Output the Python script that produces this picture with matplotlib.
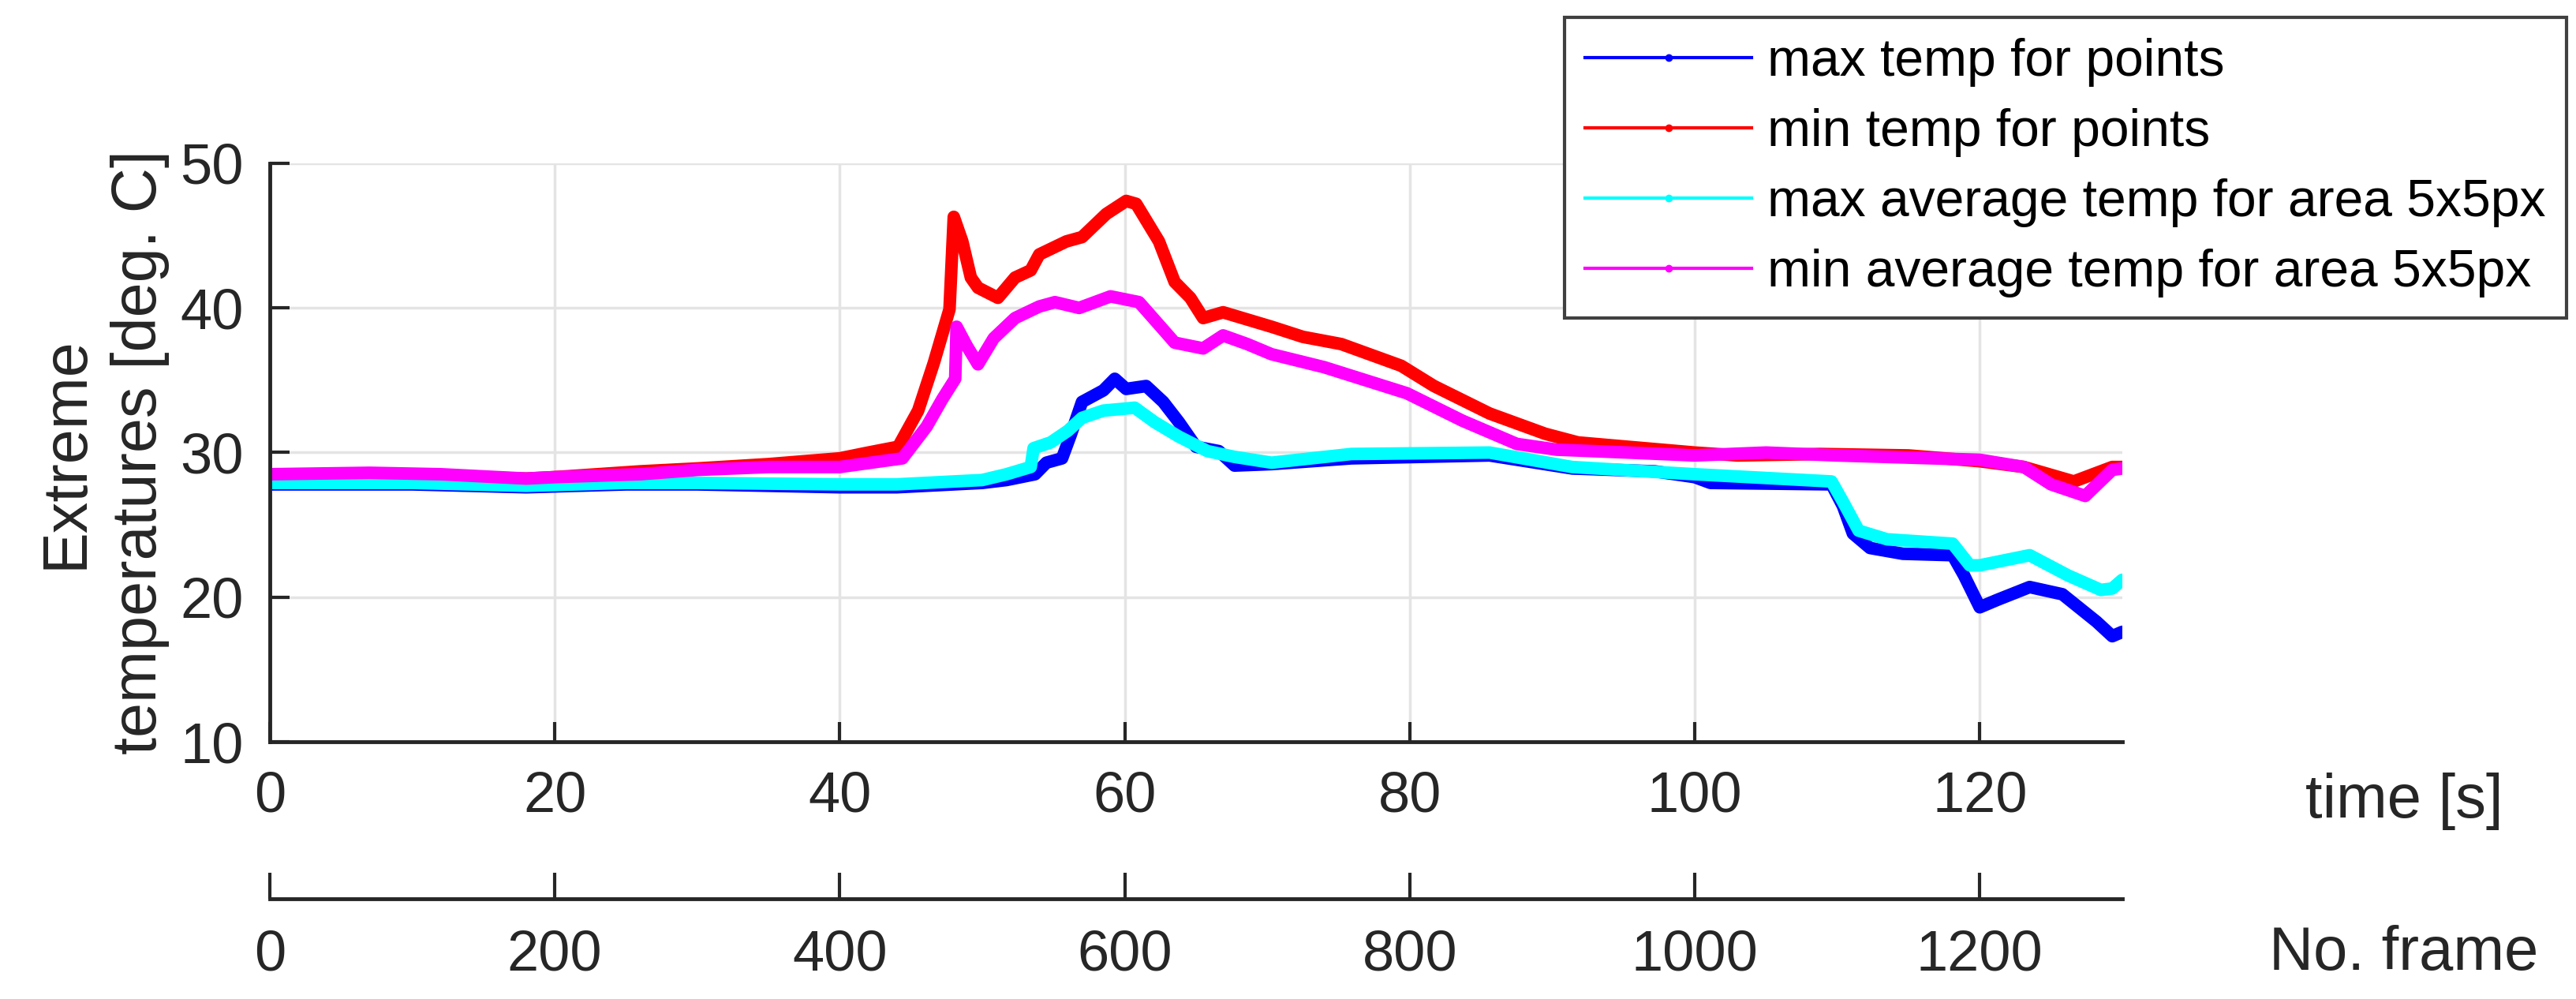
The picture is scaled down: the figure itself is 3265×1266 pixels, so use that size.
import matplotlib
matplotlib.use("Agg")
import matplotlib.pyplot as plt
from matplotlib.lines import Line2D

plt.rcParams['font.family'] = ['Liberation Sans', 'DejaVu Sans']

# values (time in s, temperature in deg. C)
t_red = [0, 5, 10, 18, 20, 26, 30, 35, 40, 42, 44.1, 45.5, 46.6, 47.7, 48.0, 48.6, 49.2, 49.7,
         51.1, 52.3, 53.4, 54.0, 55.9, 57.0, 58.7, 60.1, 60.8, 62.4, 63.5, 64.6, 65.5, 66.9,
         68.6, 70.3, 72.5, 75.2, 79.4, 81.7, 85.6, 89.5, 91.8, 95.3, 100, 103, 108.8, 115,
         120, 123.1, 126.6, 129.3, 130]
min_pts = [28.4, 28.5, 28.4, 28.2, 28.3, 28.7, 28.9, 29.2, 29.6, 30.0, 30.4, 32.9, 36.2, 39.9,
           46.3, 44.6, 42.1, 41.4, 40.7, 42.1, 42.6, 43.7, 44.6, 44.9, 46.5, 47.4, 47.2, 44.6,
           41.8, 40.7, 39.3, 39.7, 39.2, 38.7, 38.0, 37.5, 36.0, 34.6, 32.7, 31.3, 30.7, 30.4,
           30.0, 29.8, 29.9, 29.8, 29.4, 29.0, 28.0, 29.0, 29.0]

t_mag = [0, 7, 12, 18, 20, 26, 30, 35, 40, 44.4, 46.1, 47.2, 48.1, 48.2, 48.9, 49.7, 50.8,
         52.3, 54.0, 55.1, 56.8, 59.0, 61.0, 62.7, 63.5, 65.5, 66.9, 68.6, 70.3, 74, 79.8,
         83.7, 87.5, 90.3, 95.3, 100, 105, 110, 120, 123.1, 125, 127.4, 129.3, 130]
min_avg = [28.5, 28.6, 28.5, 28.2, 28.3, 28.5, 28.8, 29.0, 29.0, 29.6, 31.8, 33.7, 35.1, 38.7,
           37.4, 36.1, 37.9, 39.3, 40.1, 40.4, 40.0, 40.8, 40.4, 38.5, 37.6, 37.2, 38.1, 37.5,
           36.8, 35.9, 34.1, 32.2, 30.6, 30.2, 30.0, 29.8, 30.0, 29.8, 29.5, 29.0, 27.8, 27.0,
           28.8, 28.9]

t_blue = [0, 10, 18, 25, 30, 40, 44, 50, 51.7, 53.7, 54.5, 55.6, 56.2, 57.0, 58.5, 59.3, 60.1,
          61.5, 62.7, 63.8, 65.0, 66.6, 67.7, 70.3, 75.9, 85.6, 91.4, 97.2, 100, 101.1, 109.6,
          110.4, 111.1, 112.3, 114.6, 118.1, 118.9, 120, 121.2, 123.5, 125.8, 128.2, 129.3, 130]
max_pts = [27.8, 27.8, 27.6, 27.8, 27.8, 27.6, 27.6, 27.9, 28.1, 28.5, 29.3, 29.6, 31.2, 33.5,
           34.3, 35.1, 34.4, 34.6, 33.5, 32.1, 30.4, 30.1, 29.1, 29.2, 29.6, 29.8, 28.9, 28.7,
           28.3, 27.9, 27.8, 26.3, 24.4, 23.4, 23.0, 22.9, 21.5, 19.3, 19.8, 20.7, 20.2, 18.3,
           17.3, 17.6]

t_cyan = [0, 10, 18, 25, 30, 40, 44, 50, 51.7, 53.4, 53.6, 54.8, 56.0, 57.0, 58.5, 60.7, 62.1,
          63.8, 65.8, 67.7, 70.3, 75.9, 85.6, 91.4, 100, 109.6, 110.4, 111.5, 113.5, 118.1,
          119.3, 120, 123.5, 126.2, 128.5, 129.3, 130]
max_avg = [27.9, 27.9, 27.7, 27.9, 27.9, 27.8, 27.8, 28.1, 28.5, 29.0, 30.3, 30.7, 31.5, 32.4,
           32.9, 33.1, 32.1, 31.1, 30.1, 29.7, 29.3, 29.9, 30.0, 29.0, 28.5, 28.0, 26.6, 24.6,
           24.0, 23.7, 22.2, 22.2, 22.9, 21.5, 20.5, 20.6, 21.2]

labels = ["max temp for points", "min temp for points",
          "max average temp for area 5x5px", "min average temp for area 5x5px"]
colors = ['#0000ff', '#ff0000', '#00ffff', '#ff00ff']
x_ticks = [0, 20, 40, 60, 80, 100, 120]
frame_ticks = [0, 200, 400, 600, 800, 1000, 1200]
y_ticks = [10, 20, 30, 40, 50]

dark = '#262626'

fig = plt.figure(figsize=(32.66, 12.66), dpi=100)
ax = fig.add_axes([0.1047, 0.2575, 0.7189, 0.5790])

series = [(t_blue, max_pts), (t_red, min_pts), (t_cyan, max_avg), (t_mag, min_avg)]
for (t, v), c in zip(series, colors):
    ax.plot(t, v, color=c, lw=11.5, solid_capstyle='round', solid_joinstyle='round')

ax.set_xlim(0, 130)
ax.set_ylim(10, 50)
ax.set_xticks(x_ticks)
ax.set_yticks(y_ticks)
ax.grid(True, color='#e4e4e4', lw=2.5)
ax.set_axisbelow(True)
for s in ['top', 'right']:
    ax.spines[s].set_visible(False)
for s in ['left', 'bottom']:
    ax.spines[s].set_linewidth(3.5)
    ax.spines[s].set_color(dark)
ax.tick_params(axis='x', direction='in', length=18, width=3, colors=dark, labelsize=52, pad=26)
ax.tick_params(axis='y', direction='in', length=18, width=3, colors=dark, labelsize=52, pad=24)

ax.set_ylabel("Extreme\ntemperatures [deg. C]", fontsize=57, color=dark,
              multialignment='center', linespacing=1.33)
ax.yaxis.set_label_coords(-0.054, 0.5)

sec = ax.secondary_xaxis(-0.2715, functions=(lambda t: t * 10, lambda f: f / 10))
sec.set_xticks(frame_ticks)
sec.tick_params(axis='x', direction='in', length=24, width=3, colors=dark, labelsize=52, pad=28)
sec.spines['bottom'].set_linewidth(3.5)
sec.spines['bottom'].set_color(dark)

fig.text(0.933, 0.182, "time [s]", fontsize=56, color=dark, ha='center', va='baseline')
fig.text(0.933, 0.029, "No. frame", fontsize=56, color=dark, ha='center', va='baseline')

handles = [Line2D([], [], color=c, lw=3, marker='.', markersize=12) for c in colors]
leg = fig.legend(handles, labels, loc='upper right', bbox_to_anchor=(0.996, 0.983),
                 fontsize=47.5, frameon=True, fancybox=False, framealpha=1,
                 handlelength=3.2, handletextpad=0.3, labelspacing=0.41,
                 borderpad=0.4, borderaxespad=0)
leg.get_frame().set_edgecolor('#404040')
leg.get_frame().set_linewidth(3)

fig.savefig("out.png", dpi=100)
